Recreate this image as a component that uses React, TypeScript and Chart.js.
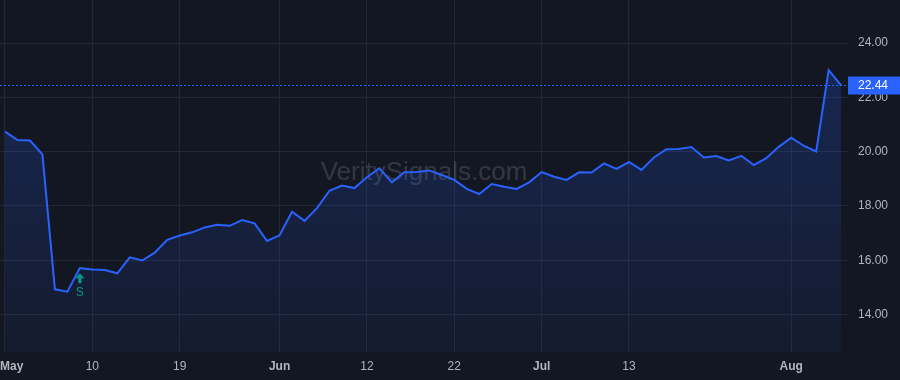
import React, { useEffect, useRef } from 'react';
import { Chart, registerables } from 'chart.js';

Chart.register(...registerables);

// ---------- data ----------
const priceValues: number[] = [
  20.74, 20.43, 20.41, 19.9, 14.93, 14.84, 15.71, 15.66, 15.64, 15.52,
  16.11, 15.99, 16.28, 16.75, 16.91, 17.03, 17.21, 17.31, 17.27, 17.48,
  17.36, 16.71, 16.92, 17.79, 17.45, 17.92, 18.56, 18.75, 18.66, 19.06,
  19.39, 18.87, 19.24, 19.25, 19.31, 19.14, 18.96, 18.63, 18.44, 18.81,
  18.71, 18.63, 18.87, 19.25, 19.08, 18.96, 19.24, 19.23, 19.57, 19.37,
  19.62, 19.33, 19.79, 20.09, 20.1, 20.17, 19.79, 19.84, 19.68, 19.85,
  19.51, 19.76, 20.18, 20.52, 20.22, 20.01, 23.01, 22.44,
];
const xTickIndex: number[] = [0, 7, 14, 22, 29, 36, 43, 50, 63];
const xTickLabels: string[] = ['May', '10', '19', 'Jun', '12', '22', 'Jul', '13', 'Aug'];
const monthLabels: string[] = ['May', 'Jun', 'Jul', 'Aug'];
const yTickValues: number[] = [14, 16, 18, 20, 22, 24];
const signalIndex = 6;
const signalText = 'S';
const watermarkText = 'VeritySignals.com';

// ---------- styles ----------
const BG = '#131722';
const GRID = '#232734';
const TEXT = '#b2b5be';
const BLUE = '#2962ff';
const GREEN = '#089981';
const FONT = '"Liberation Sans", Arial, sans-serif';

export default function App() {
  const ref = useRef<HTMLCanvasElement>(null);

  useEffect(() => {
    document.body.style.margin = '0';
    document.body.style.background = BG;
    const canvas = ref.current!;
    Chart.defaults.font.family = FONT;

    const bgPlugin = {
      id: 'bg',
      beforeDraw(chart: any) {
        const c = chart.ctx;
        c.save();
        c.fillStyle = BG;
        c.fillRect(0, 0, chart.width, chart.height);
        c.restore();
      },
    };

    const watermarkPlugin = {
      id: 'watermark',
      beforeDatasetsDraw(chart: any) {
        const { ctx: c, chartArea: a } = chart;
        c.save();
        c.font = `26px ${FONT}`;
        c.fillStyle = 'rgba(255,255,255,0.14)';
        c.textAlign = 'center';
        c.textBaseline = 'alphabetic';
        c.fillText(watermarkText, (a.left + a.right) / 2, (a.top + a.bottom) / 2 + 4);
        c.restore();
      },
    };

    const overlayPlugin = {
      id: 'overlay',
      afterDraw(chart: any) {
        const { ctx: c, chartArea: a } = chart;
        const xs = chart.scales.x;
        const ys = chart.scales.y;

        // x labels
        c.save();
        c.fillStyle = TEXT;
        c.textBaseline = 'middle';
        c.textAlign = 'center';
        xTickIndex.forEach((idx, k) => {
          const label = xTickLabels[k];
          const bold = monthLabels.includes(label);
          c.font = `${bold ? 'bold ' : ''}12px ${FONT}`;
          const w = c.measureText(label).width;
          let px = xs.getPixelForValue(idx);
          px = Math.max(px, w / 2);
          c.fillText(label, px, a.bottom + 15);
        });
        c.restore();

        // signal marker
        const sx = xs.getPixelForValue(signalIndex);
        const sy = ys.getPixelForValue(priceValues[signalIndex]) + 5;
        c.save();
        c.fillStyle = GREEN;
        c.beginPath();
        c.moveTo(sx, sy);
        c.lineTo(sx + 4.5, sy + 5);
        c.lineTo(sx + 1.6, sy + 5);
        c.lineTo(sx + 1.6, sy + 10);
        c.lineTo(sx - 1.6, sy + 10);
        c.lineTo(sx - 1.6, sy + 5);
        c.lineTo(sx - 4.5, sy + 5);
        c.closePath();
        c.fill();
        c.font = `12px ${FONT}`;
        c.textAlign = 'center';
        c.textBaseline = 'middle';
        c.fillText(signalText, sx, sy + 20);
        c.restore();

        // last price line + label
        const last = priceValues[priceValues.length - 1];
        const py = Math.round(ys.getPixelForValue(last)) + 0.5;
        c.save();
        c.strokeStyle = BLUE;
        c.lineWidth = 1;
        c.setLineDash([2, 2]);
        c.beginPath();
        c.moveTo(a.left, py);
        c.lineTo(a.right, py);
        c.stroke();
        c.setLineDash([]);
        c.fillStyle = BLUE;
        c.fillRect(a.right, py - 9, chart.width - a.right, 18);
        c.fillStyle = '#ffffff';
        c.font = `12px ${FONT}`;
        c.textAlign = 'left';
        c.textBaseline = 'middle';
        c.fillText(last.toFixed(2), a.right + 10, py + 0.5);
        c.restore();
      },
    };

    const chart = new Chart(canvas, {
      type: 'line',
      data: {
        datasets: [
          {
            data: priceValues.map((v, i) => ({ x: i, y: v })),
            borderColor: BLUE,
            borderWidth: 2,
            pointRadius: 0,
            tension: 0,
            fill: 'start',
            backgroundColor: (ctx: any) => {
              const { chart: ch } = ctx;
              const area = ch.chartArea;
              if (!area) return 'rgba(41,98,255,0.15)';
              const g = ch.ctx.createLinearGradient(0, area.top, 0, area.bottom);
              g.addColorStop(0, 'rgba(41,98,255,0.26)');
              g.addColorStop(1, 'rgba(41,98,255,0.05)');
              return g;
            },
          },
        ],
      },
      options: {
        responsive: false,
        animation: false,
        devicePixelRatio: 1,
        layout: { padding: 0 },
        plugins: {
          legend: { display: false },
          tooltip: { enabled: false },
        },
        scales: {
          x: {
            type: 'linear',
            min: -0.4,
            max: 67.55,
            border: { display: false },
            grid: { color: GRID, drawTicks: false },
            ticks: { display: false },
            afterBuildTicks: (s: any) => {
              s.ticks = xTickIndex.map((v) => ({ value: v }));
            },
            afterFit: (s: any) => {
              s.height = 28;
              s.paddingLeft = 0;
              s.paddingRight = 0;
            },
          },
          y: {
            type: 'linear',
            position: 'right',
            min: 12.62,
            max: 25.59,
            border: { display: false },
            grid: { color: GRID, drawTicks: false },
            ticks: {
              color: TEXT,
              font: { size: 12, family: FONT },
              padding: 10,
              callback: (v: any) => Number(v).toFixed(2),
            },
            afterBuildTicks: (s: any) => {
              s.ticks = yTickValues.map((v) => ({ value: v }));
            },
            afterFit: (s: any) => {
              s.width = 52;
              s.paddingTop = 0;
              s.paddingBottom = 0;
            },
          },
        },
      } as any,
      plugins: [bgPlugin, watermarkPlugin, overlayPlugin],
    });

    return () => chart.destroy();
  }, []);

  return (
    <div style={{ position: 'absolute', left: 0, top: 0, width: 900, height: 380 }}>
      <canvas ref={ref} width={900} height={380} style={{ display: 'block', width: 900, height: 380 }} />
    </div>
  );
}
